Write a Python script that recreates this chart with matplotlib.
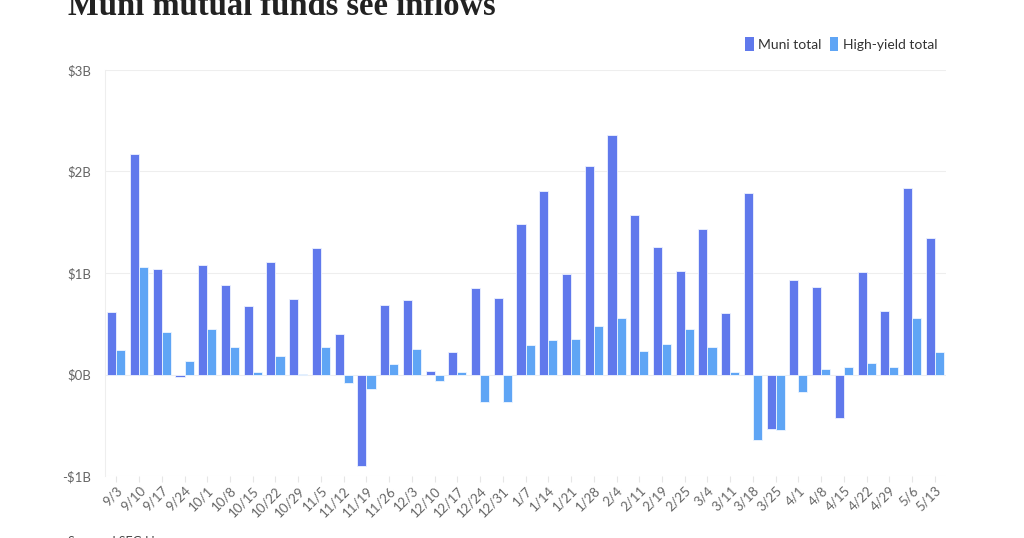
import matplotlib
matplotlib.use('Agg')
import matplotlib.pyplot as plt
from matplotlib.patches import Patch
import numpy as np

weeks = ['9/3', '9/10', '9/17', '9/24', '10/1', '10/8', '10/15', '10/22', '10/29',
         '11/5', '11/12', '11/19', '11/26', '12/3', '12/10', '12/17', '12/24', '12/31',
         '1/7', '1/14', '1/21', '1/28', '2/4', '2/11', '2/19', '2/25', '3/4', '3/11',
         '3/18', '3/25', '4/1', '4/8', '4/15', '4/22', '4/29', '5/6', '5/13']

# billions of dollars
muni_total = [0.62, 2.17, 1.04, -0.02, 1.08, 0.88, 0.67, 1.11, 0.74,
              1.25, 0.40, -0.90, 0.68, 0.73, 0.03, 0.22, 0.85, 0.75,
              1.48, 1.81, 0.99, 2.05, 2.36, 1.57, 1.26, 1.02, 1.43, 0.61,
              1.79, -0.54, 0.93, 0.86, -0.43, 1.01, 0.63, 1.84, 1.34]
hy_total = [0.24, 1.06, 0.42, 0.13, 0.45, 0.27, 0.02, 0.18, 0.005,
            0.27, -0.08, -0.14, 0.10, 0.25, -0.06, 0.02, -0.27, -0.27,
            0.29, 0.34, 0.35, 0.48, 0.56, 0.23, 0.30, 0.45, 0.27, 0.02,
            -0.65, -0.55, -0.17, 0.05, 0.075, 0.11, 0.07, 0.56, 0.22]

yticks = [-1, 0, 1, 2, 3]
ylabels = ['-$1B', '$0B', '$1B', '$2B', '$3B']

MUNI = '#6079ec'
HY = '#5fa5f5'
GREY = '#666666'

plt.rcParams['font.family'] = ['Lato', 'DejaVu Sans']

fig = plt.figure(figsize=(10.24, 5.38), dpi=100)
ax = fig.add_axes([0.1025, 0.1152, 0.8215, 0.7548])

x = np.arange(len(weeks))
w = 0.4
ax.bar(x - w / 2, muni_total, w, color=MUNI, edgecolor='#eef2ff', linewidth=0.6, zorder=3)
ax.bar(x + w / 2, hy_total, w, color=HY, edgecolor='#eef6ff', linewidth=0.6, zorder=3)

ax.set_xlim(-0.5, len(weeks) - 0.5)
ax.set_ylim(-1, 3)
ax.set_yticks(yticks)
ax.set_yticklabels(ylabels)
ax.set_xticks(x)
ax.set_xticklabels(weeks, rotation=45, ha='right', rotation_mode='anchor')
ax.tick_params(axis='y', length=0, pad=10, labelsize=9.5, labelcolor=GREY)
ax.tick_params(axis='x', length=4, color='#e6e6e6', pad=2, labelsize=9.5, labelcolor=GREY)
ax.grid(axis='y', color='#eeeeee', linewidth=0.8, zorder=0)
for s in ['top', 'right', 'bottom']:
    ax.spines[s].set_visible(False)
ax.spines['left'].set_color('#eeeeee')
ax.spines['left'].set_linewidth(0.8)

handles = [Patch(facecolor=MUNI, label='Muni total'),
           Patch(facecolor=HY, label='High-yield total')]
fig.legend(handles=handles, loc='center right', bbox_to_anchor=(0.928, 0.918),
           ncol=2, frameon=False, fontsize=10, handlelength=0.6, handleheight=1.2,
           handletextpad=0.35, columnspacing=0.6, labelcolor='#333333')

fig.text(0.066, 0.972, 'Muni mutual funds see inflows', family=['Liberation Serif', 'DejaVu Serif'],
         fontsize=23.5, fontweight='bold', color='#222222', va='baseline', ha='left')
fig.text(0.066, 0.004, 'Source: LSEG Lipper', fontsize=9, color='#444444', va='top', ha='left')

fig.savefig('out.png', dpi=100, facecolor='white')
